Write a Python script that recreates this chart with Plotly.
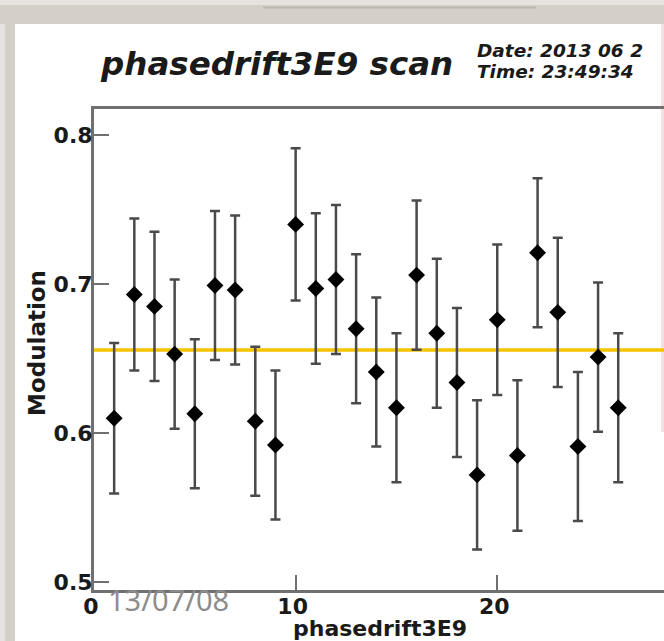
import plotly.graph_objects as go

# ---- data ----
scan_index = list(range(1, 27))
modulation = [0.610, 0.693, 0.685, 0.653, 0.613, 0.699, 0.696, 0.608, 0.592, 0.740,
              0.697, 0.703, 0.670, 0.641, 0.617, 0.706, 0.667, 0.634, 0.572, 0.676,
              0.585, 0.721, 0.681, 0.591, 0.651, 0.617]
modulation_err = [0.0505, 0.051, 0.050, 0.050, 0.050, 0.050, 0.050, 0.050, 0.050, 0.051,
                  0.0505, 0.050, 0.050, 0.050, 0.050, 0.050, 0.050, 0.050, 0.050, 0.0505,
                  0.0505, 0.050, 0.050, 0.050, 0.050, 0.050]
fit_level = 0.6557
x_ticks = [0, 10, 20]
y_ticks = [0.5, 0.6, 0.7, 0.8]
y_ticklabels = ["0.5", "0.6", "0.7", "0.8"]
title_text = "phasedrift3E9 scan"
date_text = "Date: 2013 06 2"
time_text = "Time: 23:49:34"
stamp_text = "13/07/08"
x_title = "phasedrift3E9"
y_title = "Modulation"

# ---- layout geometry (pixels) ----
W, H = 664, 641
L, R, T, B = 94, 0, 109, 51
PW, PH = W - L - R, H - T - B


def pxx(px):
    return (px - L) / PW


def pyy(py):
    return (H - B - py) / PH


AX = "#707070"
TXT = "#1a1a1a"

fig = go.Figure()
fig.add_trace(go.Scatter(
    x=scan_index, y=modulation, mode="markers",
    marker=dict(symbol="diamond", size=13, color="black"),
    error_y=dict(type="data", array=modulation_err, color="#4a4a4a",
                 thickness=2.5, width=5),
    hoverinfo="skip", showlegend=False,
))

shapes = [
    # white window area over gray frame
    dict(type="rect", xref="paper", yref="paper", layer="below",
         x0=pxx(15), x1=pxx(W + 5), y0=pyy(24), y1=pyy(H + 5),
         fillcolor="white", line=dict(width=0)),
    # light strips at very top/left
    dict(type="rect", xref="paper", yref="paper", layer="below",
         x0=pxx(-5), x1=pxx(W + 5), y0=pyy(5), y1=pyy(-5),
         fillcolor="#e6e3de", line=dict(width=0)),
    dict(type="rect", xref="paper", yref="paper", layer="below",
         x0=pxx(-5), x1=pxx(5), y0=pyy(24), y1=pyy(H + 5),
         fillcolor="#e6e3de", line=dict(width=0)),
    dict(type="line", xref="paper", yref="paper", layer="below",
         x0=pxx(263), x1=pxx(536), y0=pyy(7.5), y1=pyy(7.5),
         line=dict(color="#bdb9b1", width=2)),
    # pinkish strip at right edge
    dict(type="rect", xref="paper", yref="paper", layer="below",
         x0=pxx(661), x1=pxx(W + 5), y0=pyy(432), y1=pyy(24),
         fillcolor="#f3e1e1", line=dict(width=0)),
    # fit level line
    dict(type="line", xref="paper", yref="y", layer="below",
         x0=0, x1=1, y0=fit_level, y1=fit_level,
         line=dict(color="#f5c400", width=3.5)),
]

annotations = [
    dict(text=title_text, xref="paper", yref="paper", x=pxx(98), y=pyy(64),
         xanchor="left", yanchor="middle", showarrow=False,
         font=dict(family="DejaVu Sans", size=32.5, color=TXT, weight="bold", style="italic")),
    dict(text=date_text, xref="paper", yref="paper", x=pxx(475), y=pyy(50.5),
         xanchor="left", yanchor="middle", showarrow=False,
         font=dict(family="DejaVu Sans", size=18.5, color=TXT, weight="bold", style="italic")),
    dict(text=time_text, xref="paper", yref="paper", x=pxx(475), y=pyy(71.5),
         xanchor="left", yanchor="middle", showarrow=False,
         font=dict(family="DejaVu Sans", size=18.5, color=TXT, weight="bold", style="italic")),
    dict(text=x_title, xref="paper", yref="paper", x=pxx(380), y=pyy(628),
         xanchor="center", yanchor="middle", showarrow=False,
         font=dict(family="DejaVu Sans", size=22, color=TXT, weight="bold")),
    dict(text=y_title, xref="paper", yref="paper", x=pxx(37), y=pyy(343),
         xanchor="center", yanchor="middle", showarrow=False, textangle=-90,
         font=dict(family="DejaVu Sans", size=23, color=TXT, weight="bold")),
    dict(text=stamp_text, xref="paper", yref="paper", x=pxx(168), y=pyy(599.5),
         xanchor="center", yanchor="middle", showarrow=False,
         font=dict(family="Noto Sans", size=29, color="#8c8c8c")),
]

fig.update_layout(
    width=W, height=H,
    margin=dict(l=L, r=R, t=T, b=B, pad=0),
    paper_bgcolor="#d4d0c8", plot_bgcolor="white",
    shapes=shapes, annotations=annotations,
    showlegend=False, hovermode=False,
    xaxis=dict(range=[0, 28.27], tickvals=x_ticks, ticks="inside", ticklen=15,
               tickwidth=2, tickcolor=AX, showline=True, linewidth=3, linecolor=AX,
               mirror=True, showgrid=False, zeroline=False, ticklabelshift=-3,
               ticklabelstandoff=-5,
               tickfont=dict(family="DejaVu Sans", size=22, color=TXT, weight="bold")),
    yaxis=dict(range=[0.4948, 0.8174], tickvals=y_ticks, ticktext=y_ticklabels,
               ticks="inside", ticklen=15, tickwidth=2, tickcolor=AX, showline=True,
               linewidth=3, linecolor=AX, mirror=False, showgrid=False, zeroline=False,
               ticklabelstandoff=-6,
               tickfont=dict(family="DejaVu Sans", size=22, color=TXT, weight="bold")),
)

fig.write_html("out.html", config={"displayModeBar": False})
